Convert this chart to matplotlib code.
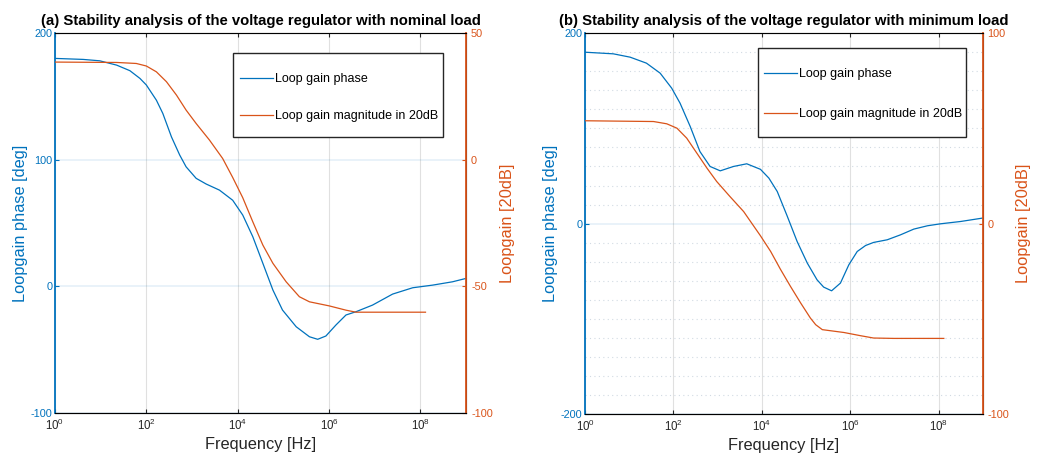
import numpy as np
import matplotlib
matplotlib.use('Agg')
import matplotlib.pyplot as plt
from matplotlib.patches import Rectangle
from matplotlib.ticker import LogFormatterSciNotation, MultipleLocator

plt.rcParams['font.family'] = ['Liberation Sans', 'DejaVu Sans']
plt.rcParams['mathtext.fontset'] = 'custom'
plt.rcParams['mathtext.rm'] = 'Liberation Sans'
plt.rcParams['axes.unicode_minus'] = False

""" Data read from the reference (log10 of frequency in Hz) """

# (a) nominal load
logf_phase_a = [0, 0.62, 0.98, 1.35, 1.64, 1.86, 2.0, 2.22, 2.36, 2.55, 2.73, 2.87, 3.09, 3.31,
                3.6, 3.89, 4.11, 4.33, 4.55, 4.77, 4.98, 5.28, 5.57, 5.75, 5.93, 6.15, 6.37,
                6.59, 6.95, 7.39, 7.83, 8.27, 8.7, 9.0]
phase_a = [180, 179.2, 178.1, 174.7, 170.3, 164.2, 159, 147, 136.6, 118, 103.7, 94.4, 85.3, 80.8,
           76, 68, 56.3, 39.2, 18.2, -2.9, -18.7, -31.9, -39.8, -41.8, -39.2, -30.5, -22.6,
           -20, -14.8, -6.1, -1.1, 1, 3.6, 6.3]

logf_mag_a = [0, 1.35, 1.78, 2.0, 2.22, 2.44, 2.66, 2.87, 3.09, 3.38, 3.67, 3.89, 4.11, 4.33,
              4.55, 4.77, 5.06, 5.35, 5.57, 6.0, 6.37, 6.59, 8.11]
mag_a = [38.55, 38.4, 38, 37, 34.7, 30.8, 25.5, 19.6, 14.3, 7.8, 0.5, -7.0, -15.0, -24.5,
         -33.7, -40.9, -48.2, -54.1, -56.1, -57.7, -59.4, -60.2, -60.2]

# (b) minimum load
logf_phase_b = [0, 0.64, 1.02, 1.39, 1.7, 1.96, 2.15, 2.38, 2.6, 2.83, 3.06, 3.36, 3.66, 3.97,
                4.16, 4.35, 4.57, 4.8, 5.03, 5.25, 5.4, 5.58, 5.78, 5.97, 6.16, 6.35, 6.53,
                6.84, 7.14, 7.44, 7.75, 8.05, 8.5, 9.0]
phase_b = [180, 178.3, 174.8, 168.5, 158, 142.3, 126.5, 102, 75.7, 60, 55.4, 60, 62.8, 57,
           47.8, 33.7, 8.5, -18.8, -41.5, -59, -66.7, -70.6, -62.5, -43.3, -29.3, -23, -19.8,
           -17, -11.8, -5.8, -2.3, -0.2, 2.2, 5.8]

logf_mag_b = [0, 1.55, 1.85, 2.08, 2.3, 2.53, 2.76, 2.98, 3.28, 3.59, 3.85, 3.97, 4.2, 4.42,
              4.65, 4.88, 5.1, 5.22, 5.37, 5.86, 6.24, 6.53, 6.99, 8.12]
mag_b = [54, 53.6, 52.4, 50.1, 44.9, 37, 29.1, 22.1, 14.2, 6.3, -2.4, -6.4, -14.6, -23.9,
         -33, -41.7, -49.6, -53.1, -55.7, -57.2, -58.9, -60.1, -60.3, -60.3]

blue = '#0072BD'
orange = '#D95319'
dark = '#262626'


def bode_panel(rect, lf_ph, ph, lf_mg, mg, ylim_l, ylim_r, ticks_l, ticks_r, title,
               box, leg_anchor, spacing, minor=False):
    ax = fig.add_axes(rect)
    ax.plot(10.0 ** np.array(lf_ph), ph, color=blue, lw=0.9, label='Loop gain phase')
    ax.set_xscale('log')
    ax.set_xlim(1, 1e9)
    ax.set_ylim(*ylim_l)
    ax.set_yticks(ticks_l)
    ax.set_xticks([1, 1e2, 1e4, 1e6, 1e8])
    ax.xaxis.set_major_formatter(LogFormatterSciNotation())
    ax.xaxis.set_minor_locator(plt.NullLocator())
    ax.tick_params(axis='x', which='both', direction='in', top=True, labelsize=8.3,
                   colors=dark, length=3)
    ax.tick_params(axis='y', direction='in', colors=blue, labelsize=7.8, length=3, pad=2)
    ax.set_ylabel('Loopgain phase [deg]', color=blue, fontsize=11.8, labelpad=2)
    ax.set_xlabel('Frequency [Hz]', color=dark, fontsize=11.8, labelpad=3)
    ax.grid(True, axis='x', color=dark, alpha=0.14, lw=0.8)
    ax.grid(True, axis='y', which='major', color=blue, alpha=0.1, lw=1.2)
    if minor:
        ax.yaxis.set_minor_locator(MultipleLocator(20))
        ax.tick_params(axis='y', which='minor', length=0)
        ax.grid(True, axis='y', which='minor', color='#4a6f8f', alpha=0.25, lw=0.8, ls=(0, (1, 3)))
    ax.spines['left'].set_color(blue)
    ax.spines['left'].set_linewidth(1.3)
    ax.spines['top'].set_color('#777777')
    ax.spines['bottom'].set_color(dark)
    ax.set_title(title, fontweight='bold', fontsize=10.7, pad=6)

    ax2 = ax.twinx()
    ax2.plot(10.0 ** np.array(lf_mg), mg, color=orange, lw=0.9, label='Loop gain magnitude in 20dB')
    ax2.set_ylim(*ylim_r)
    ax2.set_yticks(ticks_r)
    ax2.tick_params(axis='y', direction='in', colors=orange, labelsize=7.8, length=3)
    ax2.set_ylabel('Loopgain [20dB]', color=orange, fontsize=11.8, labelpad=5)
    ax2.spines['right'].set_color(orange)
    ax2.spines['right'].set_linewidth(1.3)
    ax2.spines['left'].set_visible(False)

    # legend box drawn separately so padding can match the reference
    ax2.add_patch(Rectangle((box[0], box[1]), box[2], box[3], transform=ax2.transAxes,
                            facecolor='white', edgecolor=dark, lw=1.0, zorder=4.5,
                            clip_on=False))
    handles = ax.get_lines()[:1] + ax2.get_lines()[:1]
    ax2.legend(handles, [h.get_label() for h in handles], loc='center left',
               bbox_to_anchor=leg_anchor, fontsize=9, frameon=False,
               handlelength=2.6, handletextpad=0.2, labelspacing=spacing,
               borderpad=0, borderaxespad=0)
    return ax, ax2


fig = plt.figure(figsize=(10.41, 4.55), dpi=100)

bode_panel([0.0528, 0.0923, 0.395, 0.835], logf_phase_a, phase_a, logf_mag_a, mag_a,
           (-100, 200), (-100, 50), [-100, 0, 100, 200], [-100, -50, 0, 50],
           '(a) Stability analysis of the voltage regulator with nominal load',
           (0.433, 0.726, 0.511, 0.221), (0.45, 0.83), 1.98)

bode_panel([0.562, 0.0901, 0.382, 0.837], logf_phase_b, phase_b, logf_mag_b, mag_b,
           (-200, 200), (-100, 100), [-200, 0, 200], [-100, 0, 100],
           '(b) Stability analysis of the voltage regulator with minimum load',
           (0.434, 0.727, 0.525, 0.234), (0.4505, 0.84), 2.22, minor=True)

plt.savefig('out.png', dpi=100)
